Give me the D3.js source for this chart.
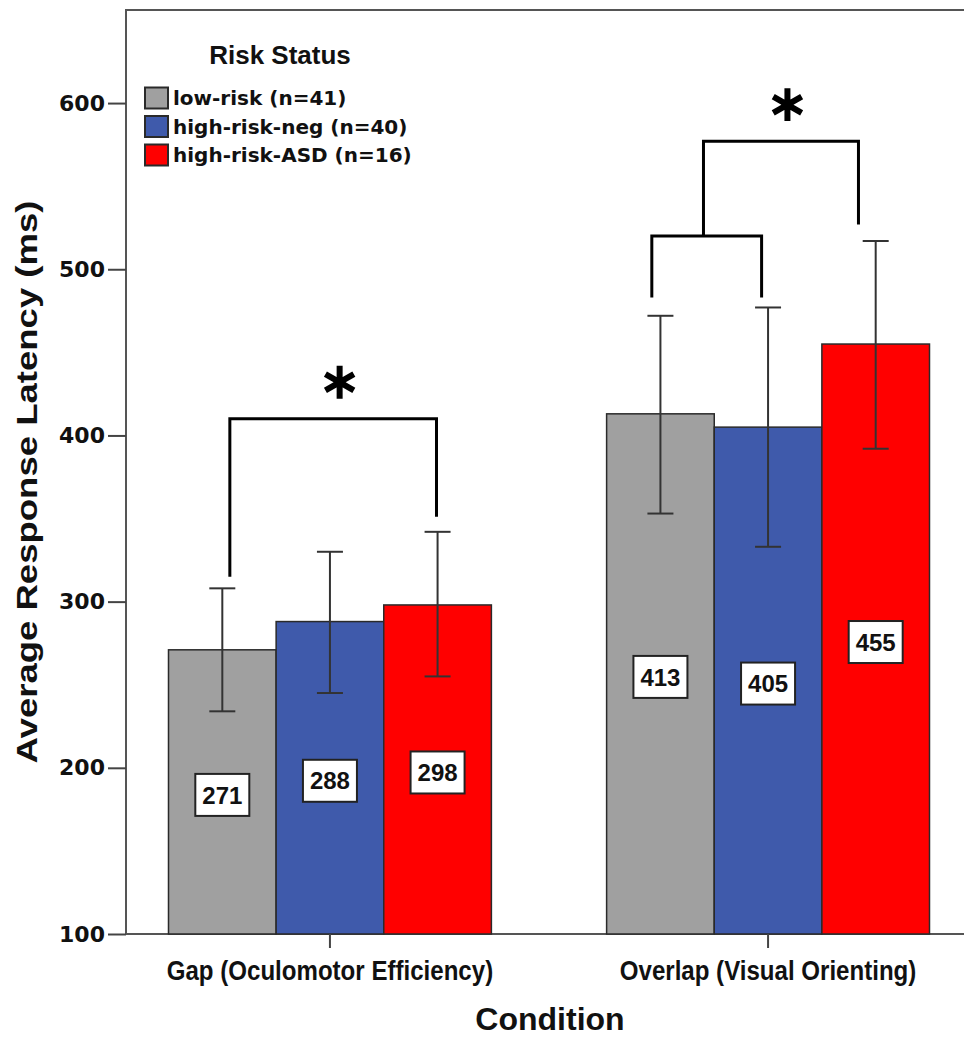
<!DOCTYPE html>
<html>
<head>
<meta charset="utf-8">
<script src="https://cdn.jsdelivr.net/npm/d3@7"></script>
<style>
  body { margin: 0; background: #fff; }
  svg { display: block; }
</style>
</head>
<body>
<div id="chart"></div>
<script>
// values
const conditions = ["Gap (Oculomotor Efficiency)", "Overlap (Visual Orienting)"];
const groups = ["low-risk (n=41)", "high-risk-neg (n=40)", "high-risk-ASD (n=16)"];
const groupColors = ["#a0a0a0", "#3f5aab", "#ff0000"];
const means = [[271, 288, 298], [413, 405, 455]];
const errLow = [[234, 245, 255], [353, 333, 392]];
const errHigh = [[308, 330, 342], [472, 477, 517]];
const yTicks = [100, 200, 300, 400, 500, 600];

// significance brackets: x given as fraction of the condition band
const brackets = [
  { cond: 0, x0: 0.19, x1: 0.83, top: 410, end0: 315, end1: 351 },
  { cond: 1, x0: 0.14, x1: 0.48, top: 520, end0: 483, end1: 483 },
  { cond: 1, x0: 0.30, x1: 0.78, top: 577, end0: 520, end1: 527 }
];
const stars = [
  { cond: 0, x: 0.53, y: 432 },
  { cond: 1, x: 0.56, y: 599 }
];

const width = 964, height = 1040;
const plotLeft = 126, plotTop = 10, plotBottom = 934;

const svg = d3.select("#chart").append("svg")
  .attr("width", width)
  .attr("height", height);

const x = d3.scaleBand()
  .domain(conditions.map((d, i) => i))
  .range([plotLeft, 972])
  .paddingInner(0.263)
  .paddingOuter(0.097);

const xInner = d3.scaleBand()
  .domain(groups.map((d, i) => i))
  .range([0, x.bandwidth()]);

const y = d3.scaleLinear()
  .domain([100, 656])
  .range([plotBottom, plotTop]);

const frac = (cond, f) => x(cond) + f * x.bandwidth();

// frame
svg.append("rect")
  .attr("x", plotLeft).attr("y", plotTop)
  .attr("width", 900).attr("height", plotBottom - plotTop)
  .attr("fill", "none")
  .attr("stroke", "#555")
  .attr("stroke-width", 2);

// bars
const rows = [];
means.forEach((arr, c) => arr.forEach((v, g) => rows.push({ c, g, v, lo: errLow[c][g], hi: errHigh[c][g] })));

svg.append("g").selectAll("rect")
  .data(rows)
  .enter()
  .append("rect")
  .attr("x", d => x(d.c) + xInner(d.g))
  .attr("y", d => y(d.v))
  .attr("width", xInner.bandwidth())
  .attr("height", d => y(100) - y(d.v))
  .attr("fill", d => groupColors[d.g])
  .attr("stroke", "#2a2a2a")
  .attr("stroke-width", 1.5);

// error bars
const eb = svg.append("g").attr("stroke", "#333").attr("stroke-width", 2);
const cx = d => x(d.c) + xInner(d.g) + xInner.bandwidth() / 2;
eb.selectAll("line.v").data(rows).enter().append("line")
  .attr("x1", cx).attr("x2", cx)
  .attr("y1", d => y(d.lo)).attr("y2", d => y(d.hi));
eb.selectAll("line.hi").data(rows).enter().append("line")
  .attr("x1", d => cx(d) - 13).attr("x2", d => cx(d) + 13)
  .attr("y1", d => y(d.hi)).attr("y2", d => y(d.hi));
eb.selectAll("line.lo").data(rows).enter().append("line")
  .attr("x1", d => cx(d) - 13).attr("x2", d => cx(d) + 13)
  .attr("y1", d => y(d.lo)).attr("y2", d => y(d.lo));

// value labels
const lab = svg.append("g").selectAll("g")
  .data(rows)
  .enter()
  .append("g")
  .attr("transform", d => "translate(" + cx(d) + "," + (y((100 + d.v) / 2) + 3) + ")");
lab.append("rect")
  .attr("x", -27).attr("y", -21)
  .attr("width", 54).attr("height", 42)
  .attr("fill", "#fff")
  .attr("stroke", "#222")
  .attr("stroke-width", 2);
lab.append("text")
  .attr("text-anchor", "middle")
  .attr("dy", "0.36em")
  .style("font-family", "'Liberation Sans', Arial, sans-serif")
  .style("font-weight", "bold")
  .style("font-size", "24px")
  .attr("fill", "#111")
  .text(d => d.v);

// y axis
const yAxis = svg.append("g")
  .attr("transform", "translate(" + plotLeft + ",0)")
  .call(d3.axisLeft(y).tickValues(yTicks).tickSize(18).tickPadding(3));
yAxis.select(".domain").remove();
yAxis.selectAll("line").attr("stroke", "#444").attr("stroke-width", 2);
yAxis.selectAll("text")
  .style("font-family", "'DejaVu Sans', sans-serif")
  .style("font-weight", "bold")
  .style("font-size", "22px")
  .attr("fill", "#111");

// x axis
const xAxis = svg.append("g")
  .attr("transform", "translate(0," + plotBottom + ")")
  .call(d3.axisBottom(x).tickSize(14).tickPadding(12).tickFormat(i => conditions[i]));
xAxis.select(".domain").remove();
xAxis.selectAll("line").attr("stroke", "#444").attr("stroke-width", 2);
xAxis.selectAll("text")
  .attr("transform", "scale(0.86,1)")
  .style("font-family", "'Liberation Sans', Arial, sans-serif")
  .style("font-weight", "bold")
  .style("font-size", "28px")
  .attr("fill", "#111");

// axis titles
svg.append("text")
  .attr("transform", "translate(37,482) rotate(-90) scale(1.26,1)")
  .attr("text-anchor", "middle")
  .style("font-family", "'Liberation Sans', Arial, sans-serif")
  .style("font-weight", "bold")
  .style("font-size", "29px")
  .attr("fill", "#111")
  .text("Average Response Latency (ms)");

svg.append("text")
  .attr("x", 550).attr("y", 1030)
  .attr("text-anchor", "middle")
  .style("font-family", "'Liberation Sans', Arial, sans-serif")
  .style("font-weight", "bold")
  .style("font-size", "32px")
  .attr("fill", "#111")
  .text("Condition");

// brackets
svg.append("g").selectAll("path")
  .data(brackets)
  .enter()
  .append("path")
  .attr("d", d => {
    const a = frac(d.cond, d.x0), b = frac(d.cond, d.x1);
    return "M" + a + "," + y(d.end0) + "V" + y(d.top) + "H" + b + "V" + y(d.end1);
  })
  .attr("fill", "none")
  .attr("stroke", "#000")
  .attr("stroke-width", 3);

svg.append("g").selectAll("path")
  .data(stars)
  .enter()
  .append("path")
  .attr("transform", d => "translate(" + frac(d.cond, d.x) + "," + y(d.y) + ")")
  .attr("d", d3.symbol().type(d3.symbolAsterisk).size(760))
  .attr("stroke", "#000")
  .attr("stroke-width", 6)
  .attr("fill", "none");

// legend
const legend = svg.append("g");
legend.append("text")
  .attr("x", 280).attr("y", 64)
  .attr("text-anchor", "middle")
  .style("font-family", "'Liberation Sans', Arial, sans-serif")
  .style("font-weight", "bold")
  .style("font-size", "26px")
  .attr("fill", "#111")
  .text("Risk Status");

const item = legend.selectAll("g.item")
  .data(groups)
  .enter()
  .append("g")
  .attr("transform", (d, i) => "translate(145," + (98 + i * 28.5) + ")");
item.append("rect")
  .attr("x", 0).attr("y", -10.5)
  .attr("width", 23).attr("height", 21)
  .attr("fill", (d, i) => groupColors[i])
  .attr("stroke", "#2a2a2a")
  .attr("stroke-width", 2);
item.append("text")
  .attr("x", 28).attr("dy", "0.36em")
  .style("font-family", "'DejaVu Sans', sans-serif")
  .style("font-weight", "bold")
  .style("font-size", "20px")
  .attr("fill", "#111")
  .text(d => d);
</script>
</body>
</html>
